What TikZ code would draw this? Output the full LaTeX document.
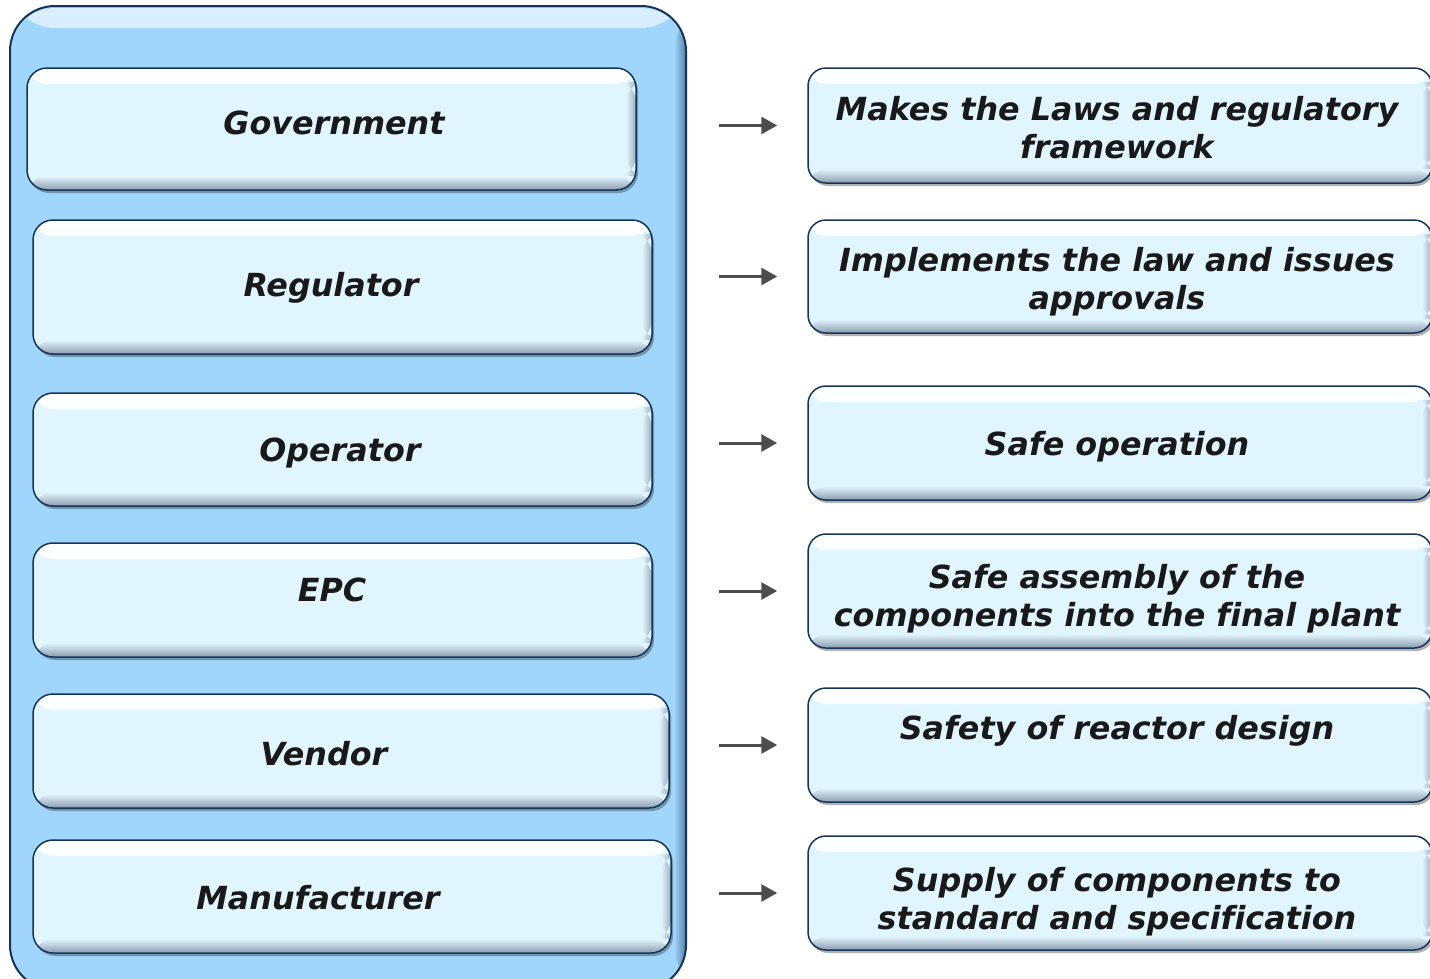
\documentclass[tikz,border=0pt]{standalone}
\usepackage{fontspec}
\setmainfont[Ligatures={NoCommon}]{DejaVu Sans}
\usetikzlibrary{arrows.meta,shadows}
\definecolor{contfill}{RGB}{160,214,252}
\definecolor{boxfill}{RGB}{225,245,255}
\definecolor{navy}{RGB}{22,52,90}
\definecolor{arrgray}{RGB}{77,77,77}
\definecolor{shadeb}{RGB}{140,155,172}
\tikzset{
  bevel/.style={
    path picture={
      \fill[top color=white, bottom color=boxfill]
        (path picture bounding box.north west) rectangle ([yshift=-16pt]path picture bounding box.north east);
      \fill[top color=boxfill, bottom color=shadeb]
        ([yshift=14pt]path picture bounding box.south west) rectangle (path picture bounding box.south east);
      \fill[left color=boxfill, right color=shadeb, opacity=0.8]
        ([xshift=-10pt,yshift=-14pt]path picture bounding box.north east) rectangle ([yshift=14pt]path picture bounding box.south east);
    }},
  lbox/.style={draw=navy, line width=1.5pt, fill=boxfill, rounded corners=20pt,
    inner sep=0pt, bevel,
    drop shadow={shadow xshift=2pt, shadow yshift=-3pt, fill=black, opacity=0.3}},
  rbox/.style={lbox, rounded corners=18pt, minimum width=624pt, minimum height=114pt},
  txt/.style={inner sep=0pt, align=center, text=black!90,
    font=\fontsize{31.8}{38}\selectfont\bfseries\itshape},
  arr/.style={draw=arrgray, line width=3pt, shorten <=32pt, shorten >=30pt,
    -{Triangle[length=16pt,width=17pt]}},
}
\begin{document}
\begin{tikzpicture}[x=1pt,y=-1pt]
\useasboundingbox (0,0) rectangle (1430,978);
\clip (0,0) rectangle (1430,978);
% container
\node[draw=navy, line width=2pt, fill=contfill, rounded corners=45pt,
  minimum width=676pt, minimum height=984pt, inner sep=0pt,
  path picture={
    \fill[top color=white!60!contfill, bottom color=contfill]
      ([yshift=-2pt]path picture bounding box.north west) rectangle ([yshift=-22pt]path picture bounding box.north east);
    \fill[left color=contfill, right color=contfill!45!navy]
      ([xshift=-12pt]path picture bounding box.north east) rectangle (path picture bounding box.south east);
  }] (cont) at (348,498) {};
% left boxes
\node[lbox, minimum width=609pt, minimum height=122pt] (gov) at (331.5,129) {};
\node[lbox, minimum width=619pt, minimum height=134pt] (reg) at (342.5,287) {};
\node[lbox, minimum width=619pt, minimum height=113pt] (op) at (342.5,449.5) {};
\node[lbox, minimum width=619pt, minimum height=114pt] (epc) at (342.5,600) {};
\node[lbox, minimum width=636pt, minimum height=114pt] (ven) at (351,751) {};
\node[lbox, minimum width=638pt, minimum height=113pt] (man) at (352,896.5) {};
\node[txt] (tgov) at (334,123) {Government};
\node[txt] (treg) at (331,288) {Regulator};
\node[txt] (top) at (340,453) {Operator};
\node[txt] (tepc) at (332,590) {EPC};
\node[txt] (tven) at (324,754) {Vendor};
\node[txt] (tman) at (318,898) {Manufacturer};
% right boxes
\node[rbox, minimum height=115pt] (r1) at (1120,125.5) {};
\node[rbox, minimum height=113pt] (r2) at (1120,276.5) {};
\node[rbox] (r3) at (1120,443) {};
\node[rbox] (r4) at (1120,591) {};
\node[rbox] (r5) at (1120,745) {};
\node[rbox] (r6) at (1120,893) {};
\node[txt] (t1) at (1117,128) {Makes the Laws and regulatory\\framework};
\node[txt] (t2) at (1117,282) {Implements the law and issues\\approvals};
\node[txt] (t3) at (1117,447) {Safe operation};
\node[txt] (t4) at (1117,599) {Safe assembly of the\\components into the final plant};
\node[txt] (t5) at (1117,731) {Safety of reactor design};
\node[txt] (t6) at (1117,902) {Supply of components to\\standard and specification};
% arrows
\draw[arr] (cont.east |- r1.west) -- (r1.west);
\draw[arr] (cont.east |- r2.west) -- (r2.west);
\draw[arr] (cont.east |- r3.west) -- (r3.west);
\draw[arr] (cont.east |- r4.west) -- (r4.west);
\draw[arr] (cont.east |- r5.west) -- (r5.west);
\draw[arr] (cont.east |- r6.west) -- (r6.west);
\end{tikzpicture}
\end{document}
